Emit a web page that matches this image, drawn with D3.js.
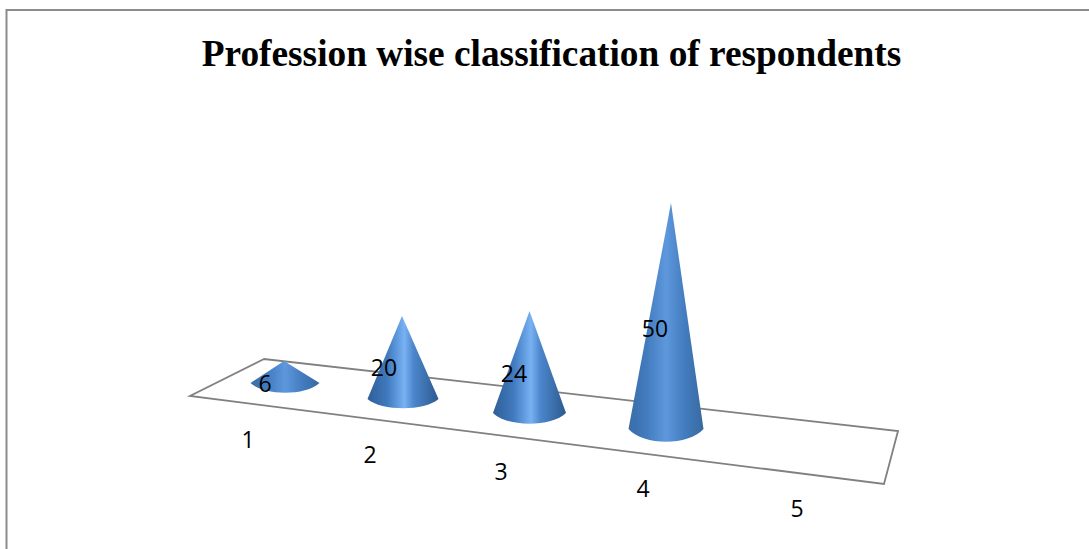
<!DOCTYPE html>
<html>
<head>
<meta charset="utf-8">
<script src="https://cdn.jsdelivr.net/npm/d3@7"></script>
<style>
    html, body { margin: 0; background: #fff; }
    svg { display: block; }
    .title { font-family: "Liberation Serif", serif; font-weight: bold; font-size: 37.33px; }
    .lbl { font-family: "Open Sans", Lato, sans-serif; font-size: 23px; fill: #000; }
</style>
</head>
<body>
<div id="chart"></div>
<script>
const categories = [1, 2, 3, 4, 5];
const catLabels  = ['1', '2', '3', '4', '5'];
const seriesVals = [6, 20, 24, 50];

const width  = 1089;
const height = 549;

const svg = d3.select('#chart').append('svg')
    .attr('width', width)
    .attr('height', height);

// the 3d floor runs left to right and gets bigger towards the front, so scales are piecewise
const baseX   = d3.scaleLinear().domain(categories).range([285, 403, 529.5, 666, 816]);
const baseY   = d3.scaleLinear().domain(categories).range([383, 399, 413, 429, 450]);
const labelX  = d3.scaleLinear().domain(categories).range([248, 370, 501, 643, 797]);
const labelY  = d3.scaleLinear().domain(categories).range([448, 463, 480, 497, 517]);
const radius  = d3.scaleLinear().domain([1, 4]).range([34.5, 37.5]);
const ryaw    = d3.scaleLinear().domain([1, 2, 3, 4]).range([10, 9.5, 11, 13]);
const perUnit = d3.scaleLinear().domain([1, 2, 3, 4]).range([3.67, 4.15, 4.25, 4.52]);
const lean    = d3.scaleLinear().domain([1, 2, 3, 4]).range([-1, -1, 0, 5]);

const defs = svg.append('defs');

function addGradient(id, stops) {
    const grad = defs.append('linearGradient').attr('id', id);
    stops.forEach(s => {
        grad.append('stop').attr('offset', s[0]).attr('stop-color', s[1]);
    });
}

addGradient('coneBright', [[0, '#2f5f98'], [0.28, '#4079be'], [0.42, '#5f9ade'], [0.52, '#78b2f2'], [0.65, '#4c86cc'], [1, '#2c5a8e']]);
addGradient('coneSoft', [[0, '#3a6ca8'], [0.25, '#437cbf'], [0.5, '#5e98dc'], [0.75, '#437cbf'], [1, '#376a9f']]);

defs.append('filter').attr('id', 'soft')
    .append('feGaussianBlur').attr('stdDeviation', 0.5);

// page frame, only left and top are there
svg.append('path')
    .attr('d', d3.line()([[6.5, 549], [6.5, 10], [1089, 10]]))
    .attr('fill', 'none')
    .attr('stroke', '#8c8c8c')
    .attr('stroke-width', 2);

svg.append('text')
    .attr('class', 'title')
    .attr('x', 551.5)
    .attr('y', 66)
    .attr('text-anchor', 'middle')
    .text('Profession wise classification of respondents');

// floor
svg.append('path')
    .attr('d', d3.line()([[264, 359], [190, 396], [884, 484], [898, 431]]) + 'Z')
    .attr('fill', 'none')
    .attr('stroke', '#808080')
    .attr('stroke-width', 1.8);

svg.selectAll('.cone')
    .data(seriesVals)
    .enter().append('path')
    .attr('class', 'cone')
    .attr('fill', (v, i) => (i === 1 || i === 2) ? 'url(#coneBright)' : 'url(#coneSoft)')
    .attr('filter', 'url(#soft)')
    .attr('d', (v, i) => {
        const c  = categories[i];
        const x  = baseX(c);
        const y  = baseY(c);
        const r  = radius(c);
        const ry = ryaw(c);
        const path = d3.path();
        path.moveTo(x - r, y);
        path.lineTo(x + lean(c), y - v * perUnit(c));
        path.lineTo(x + r, y);
        path.bezierCurveTo(x + r * 0.6, y + ry * 1.3, x - r * 0.6, y + ry * 1.3, x - r, y);
        path.closePath();
        return path.toString();
    });

svg.selectAll('.val')
    .data(seriesVals)
    .enter().append('text')
    .attr('class', 'lbl val')
    .attr('text-anchor', 'middle')
    .attr('x', (v, i) => [265, 384, 514, 655][i])
    .attr('y', (v, i) => [392, 376, 382, 337][i])
    .text(v => v);

svg.selectAll('.cat')
    .data(categories)
    .enter().append('text')
    .attr('class', 'lbl cat')
    .attr('text-anchor', 'middle')
    .attr('x', c => labelX(c))
    .attr('y', c => labelY(c))
    .text((c, i) => catLabels[i]);
</script>
</body>
</html>
